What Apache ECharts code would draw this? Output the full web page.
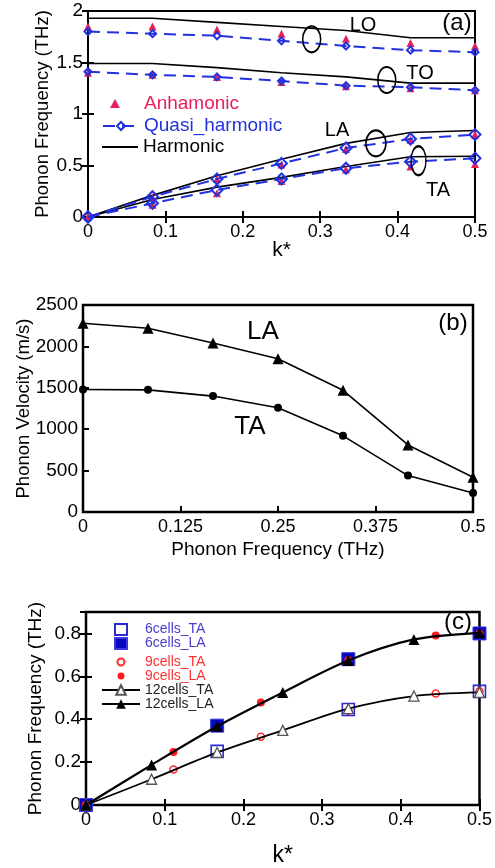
<!DOCTYPE html>
<html>
<head>
<meta charset="utf-8">
<script src="https://cdn.jsdelivr.net/npm/echarts@6/dist/echarts.min.js"></script>
<style>
  html, body { margin: 0; padding: 0; background: #fff; }
  #chart { width: 495px; height: 868px; }
</style>
</head>
<body>
<div id="chart"></div>
<script>
// ---- panel (a): dispersion, harmonic / quasi-harmonic / anharmonic
var kA = [0, 1/12, 1/6, 1/4, 1/3, 5/12, 1/2];
var harmLO = [1.93, 1.93, 1.89, 1.85, 1.81, 1.74, 1.74];
var harmTO = [1.49, 1.49, 1.45, 1.40, 1.36, 1.30, 1.30];
var harmLA = [0, 0.21, 0.40, 0.56, 0.715, 0.82, 0.84];
var harmTA = [0, 0.17, 0.29, 0.385, 0.49, 0.585, 0.59];
var quasiLO = [1.80, 1.78, 1.76, 1.71, 1.66, 1.62, 1.60];
var quasiTO = [1.41, 1.38, 1.36, 1.32, 1.275, 1.26, 1.23];
var quasiLA = [0, 0.197, 0.37, 0.52, 0.67, 0.757, 0.80];
var quasiTA = [0, 0.133, 0.262, 0.369, 0.473, 0.537, 0.57];
var anhLO = [1.85, 1.85, 1.82, 1.78, 1.73, 1.69, 1.66];
var anhTO = [1.40, 1.38, 1.36, 1.31, 1.27, 1.25, 1.23];
var anhLA = [0, 0.19, 0.37, 0.51, 0.66, 0.75, 0.80];
var anhTA = [0, 0.12, 0.23, 0.35, 0.46, 0.49, 0.515];
// little loops grouping each branch
var loopK = [0.289, 0.386, 0.372, 0.427];
var loopF = [1.725, 1.33, 0.715, 0.547];

// ---- panel (b): group velocity
var kB = [0, 1/12, 1/6, 1/4, 1/3, 5/12, 1/2];
var velLA = [2280, 2220, 2040, 1850, 1470, 810, 420];
var velTA = [1480, 1475, 1400, 1260, 920, 440, 230];

// ---- panel (c): supercell convergence
var k6 = [0, 1/6, 1/3, 1/2];
var ta6 = [0, 0.25, 0.445, 0.53];
var la6 = [0, 0.37, 0.68, 0.80];
var k9 = [0, 1/9, 2/9, 1/3, 4/9, 1/2];
var ta9 = [0, 0.165, 0.318, 0.44, 0.52, 0.53];
var la9 = [0, 0.247, 0.478, 0.675, 0.79, 0.80];
var k12 = [0, 1/12, 1/6, 1/4, 1/3, 5/12, 1/2];
var ta12 = [0, 0.12, 0.245, 0.348, 0.449, 0.508, 0.525];
var la12 = [0, 0.187, 0.367, 0.525, 0.674, 0.772, 0.803];

var FONT = '"Liberation Sans", Arial, sans-serif';
var RED = '#e8205a', BLUE = '#2233dd';

// legend icons: the leading moves pin the box so the marker is not stretched
var ICON_TRI = 'path://M0,0M36,10M12,0L17,9L7,9Z';
var ICON_SQ = 'path://M0,0M38,12M13,1L25,1L25,12L13,12Z';
var ICON_DOT = 'path://M0,0M38,8M15.5,4A3.5,3.5,0,1,1,22.5,4A3.5,3.5,0,1,1,15.5,4Z';

function pts(xs, ys) {
  return xs.map(function (x, i) { return [x, ys[i]]; });
}
function plain(v) { return String(v); }

function mainX(grid, min, max, step, name, gap, size) {
  return {
    type: 'value', gridIndex: grid, min: min, max: max, interval: step,
    name: name, nameLocation: 'middle', nameGap: gap, nameMoveOverlap: false,
    nameTextStyle: { fontFamily: FONT, fontSize: size, color: '#000' },
    axisLine: { show: true, lineStyle: { color: '#000', width: 2 } },
    axisTick: { show: true, inside: true, length: 6, lineStyle: { color: '#000', width: 2 } },
    axisLabel: { fontFamily: FONT, fontSize: 18, color: '#000', margin: 6, formatter: plain },
    splitLine: { show: false }
  };
}
function mainY(grid, min, max, step, name, gap, size, hideMax) {
  return {
    type: 'value', gridIndex: grid, min: min, max: max, interval: step,
    name: name, nameLocation: 'middle', nameGap: gap, nameMoveOverlap: false,
    nameTextStyle: { fontFamily: FONT, fontSize: size, color: '#000' },
    axisLine: { show: true, lineStyle: { color: '#000', width: 2 } },
    axisTick: { show: true, inside: true, length: 6, lineStyle: { color: '#000', width: 2 } },
    axisLabel: { fontFamily: FONT, fontSize: 19, color: '#000', margin: 5, showMaxLabel: !hideMax, formatter: plain },
    splitLine: { show: false }
  };
}
function mirror(grid, min, max, step, pos) {
  return {
    type: 'value', gridIndex: grid, min: min, max: max, interval: step, position: pos,
    axisLine: { show: true, lineStyle: { color: '#000', width: 2 } },
    axisTick: { show: true, inside: true, length: 6, lineStyle: { color: '#000', width: 2 } },
    axisLabel: { show: false },
    splitLine: { show: false }
  };
}

var series = [];

// (a) harmonic solid lines
[harmLO, harmTO, harmLA, harmTA].forEach(function (arr) {
  series.push({
    name: 'Harmonic', type: 'line', xAxisIndex: 0, yAxisIndex: 0,
    data: pts(kA, arr), symbol: 'none',
    lineStyle: { color: '#000', width: 1.6 }, itemStyle: { color: '#000' }, z: 2
  });
});
// (a) anharmonic triangles
[anhLO, anhTO, anhLA, anhTA].forEach(function (arr) {
  series.push({
    name: 'Anhamonic', type: 'scatter', xAxisIndex: 0, yAxisIndex: 0,
    data: pts(kA, arr), symbol: 'triangle', symbolSize: 8,
    itemStyle: { color: RED, opacity: 1 }, z: 3
  });
});
// (a) quasi-harmonic dashed lines with diamonds
[[quasiLO, 7], [quasiTO, 7], [quasiLA, 11], [quasiTA, 11]].forEach(function (p) {
  series.push({
    name: 'Quasi_harmonic', type: 'line', xAxisIndex: 0, yAxisIndex: 0,
    data: pts(kA, p[0]), symbol: 'diamond', symbolSize: p[1],
    lineStyle: { color: BLUE, width: 2, type: [12, 7] },
    itemStyle: { color: 'rgba(255,255,255,0)', borderColor: BLUE, borderWidth: 2 }, z: 4
  });
});
// (a) loops
var loopSize = [[18, 26], [18, 26], [20, 26], [15, 29]];
series.push({
  type: 'scatter', xAxisIndex: 0, yAxisIndex: 0, silent: true, z: 5,
  data: pts(loopK, loopF).map(function (v, i) { return { value: v, symbolSize: loopSize[i] }; }),
  symbol: 'circle',
  itemStyle: { color: 'rgba(255,255,255,0)', borderColor: '#000', borderWidth: 1.8, opacity: 1 }
});

// (b)
series.push({
  name: 'LA', type: 'line', xAxisIndex: 2, yAxisIndex: 2, data: pts(kB, velLA),
  symbol: 'triangle', symbolSize: 11, lineStyle: { color: '#000', width: 1.6 }, itemStyle: { color: '#000' }
});
series.push({
  name: 'TA', type: 'line', xAxisIndex: 2, yAxisIndex: 2, data: pts(kB, velTA),
  symbol: 'circle', symbolSize: 8, lineStyle: { color: '#000', width: 1.6 }, itemStyle: { color: '#000' }
});

// (c)
series.push({
  name: '6cells_TA', type: 'scatter', xAxisIndex: 3, yAxisIndex: 3, data: pts(k6, ta6),
  symbol: 'rect', symbolSize: 12,
  itemStyle: { color: 'rgba(255,255,255,0)', borderColor: '#2a2ad0', borderWidth: 1.6, opacity: 1 }, z: 2
});
series.push({
  name: '6cells_LA', type: 'scatter', xAxisIndex: 3, yAxisIndex: 3, data: pts(k6, la6),
  symbol: 'rect', symbolSize: 13,
  itemStyle: { color: '#0808c0', borderColor: '#3a3ae0', borderWidth: 1, opacity: 1 }, z: 2
});
series.push({
  name: '9cells_TA', type: 'scatter', xAxisIndex: 3, yAxisIndex: 3, data: pts(k9, ta9),
  symbol: 'circle', symbolSize: 7,
  itemStyle: { color: 'rgba(255,255,255,0)', borderColor: '#ff2a2a', borderWidth: 1.5, opacity: 1 }, z: 3
});
series.push({
  name: '9cells_LA', type: 'scatter', xAxisIndex: 3, yAxisIndex: 3, data: pts(k9, la9),
  symbol: 'circle', symbolSize: 8,
  itemStyle: { color: '#ff1a1a', opacity: 1 }, z: 3
});
series.push({
  name: '12cells_TA', type: 'line', xAxisIndex: 3, yAxisIndex: 3, data: pts(k12, ta12),
  smooth: 0.3, symbol: 'triangle', symbolSize: 10,
  lineStyle: { color: '#000', width: 1.8 },
  itemStyle: { color: '#fff', borderColor: '#555', borderWidth: 1.3 }, z: 4
});
series.push({
  name: '12cells_LA', type: 'line', xAxisIndex: 3, yAxisIndex: 3, data: pts(k12, la12),
  smooth: 0.3, symbol: 'triangle', symbolSize: 11,
  lineStyle: { color: '#000', width: 2.2 }, itemStyle: { color: '#000' }, z: 4
});

function txt(s, x, y, size, color) {
  return {
    type: 'text', x: x, y: y, z: 10,
    style: { text: s, font: size + 'px ' + FONT, fill: color || '#000', align: 'center', verticalAlign: 'middle' }
  };
}
function legendBox(left, top, iw, ih, fs, lh, items) {
  return {
    orient: 'vertical', left: left, top: top, itemWidth: iw, itemHeight: ih, itemGap: 0,
    textStyle: { fontFamily: FONT, fontSize: fs, lineHeight: lh },
    data: items
  };
}

var chart = echarts.init(document.getElementById('chart'), null, { renderer: 'canvas' });
chart.setOption({
  animation: false,
  backgroundColor: '#fff',
  grid: [
    { left: 88, top: 11, width: 387, height: 206, show: true, borderColor: '#000', borderWidth: 2 },
    { left: 83, top: 305, width: 390, height: 207, show: true, borderColor: '#000', borderWidth: 2.5 },
    { left: 86, top: 612, width: 394, height: 200, show: true, borderColor: '#000', borderWidth: 2.5 }
  ],
  xAxis: [
    mainX(0, 0, 0.5, 0.1, 'k*', 23, 21),
    mirror(0, 0, 0.5, 0.1, 'top'),
    mainX(1, 0, 0.5, 0.125, 'Phonon Frequency (THz)', 28, 19),
    mainX(2, 0, 0.5, 0.1, 'k*', 39, 23),
    mirror(2, 0, 0.5, 0.1, 'top')
  ],
  yAxis: [
    mainY(0, 0, 2, 0.5, 'Phonon Frequency (THz)', 36, 18.5),
    mirror(0, 0, 2, 0.5, 'right'),
    mainY(1, 0, 2500, 500, 'Phonon Velocity (m/s)', 50, 18.5),
    mainY(2, 0, 0.9, 0.2, 'Phonon Frequency (THz)', 41, 19, true),
    mirror(2, 0, 0.9, 0.2, 'right')
  ],
  legend: [
    legendBox(97, 88, 36, 10, 19, 22, [
      { name: 'Anhamonic', icon: ICON_TRI, textStyle: { color: RED } },
      { name: 'Quasi_harmonic', textStyle: { color: BLUE } }
    ]),
    legendBox(97, 131, 36, 2, 19, 22, [
      { name: 'Harmonic', icon: 'rect', textStyle: { color: '#000' } }
    ]),
    legendBox(96, 617, 38, 12, 14, 14, [
      { name: '6cells_TA', icon: ICON_SQ, textStyle: { color: '#4a3ccc' } },
      { name: '6cells_LA', icon: ICON_SQ, textStyle: { color: '#4a3ccc' } }
    ]),
    legendBox(96, 650, 38, 8, 14, 12, [
      { name: '9cells_TA', icon: ICON_DOT, textStyle: { color: '#ff3030' } },
      { name: '9cells_LA', icon: ICON_DOT, textStyle: { color: '#ff3030' } }
    ]),
    legendBox(96, 678, 38, 12, 14, 14, [
      { name: '12cells_TA', textStyle: { color: '#222' } },
      { name: '12cells_LA', textStyle: { color: '#222' } }
    ])
  ],
  graphic: [
    txt('(a)', 457, 23, 24), txt('LO', 363, 25, 20), txt('TO', 420, 73, 20),
    txt('LA', 337, 130, 20), txt('TA', 438, 190, 20),
    txt('(b)', 453, 323, 24), txt('LA', 263, 332, 26), txt('TA', 250, 427, 26),
    txt('(c)', 458, 622, 24)
  ],
  series: series
});
</script>
</body>
</html>
